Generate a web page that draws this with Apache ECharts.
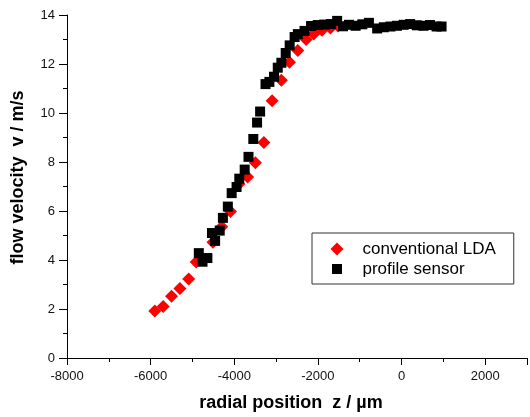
<!DOCTYPE html>
<html>
<head>
<meta charset="utf-8">
<script src="https://cdn.jsdelivr.net/npm/echarts@6/dist/echarts.min.js"></script>
<style>
  html, body { margin: 0; padding: 0; background: #fff; }
  #chart { width: 530px; height: 417px; }
</style>
</head>
<body>
<div id="chart"></div>
<script>
// conventional LDA (red diamonds): radial position z [um], velocity [m/s]
var ldaZ = [-5900, -5700, -5500, -5300, -5090, -4910, -4510, -4300, -4090, -3890, -3680,
  -3495, -3292, -3095, -2874, -2680, -2480, -2282, -2100, -1900, -1700, -1520];
var ldaV = [1.92, 2.10, 2.52, 2.84, 3.22, 3.92, 4.72, 5.36, 5.98, 7.10, 7.39,
  7.97, 8.80, 10.50, 11.34, 12.07, 12.55, 13.00, 13.22, 13.38, 13.47, 13.55];

// profile sensor (black squares)
var sensorZ = [-4848, -4760, -4643, -4533, -4458, -4348, -4272, -4154, -4062, -3945, -3880,
  -3751, -3660, -3545, -3455, -3382, -3253, -3160, -3050, -2960, -2874, -2770, -2675,
  -2557, -2479, -2320, -2164, -2005, -1848, -1690, -1540, -1400, -1256, -1098, -938,
  -780, -583, -424, -265, -109, 50, 206, 365, 523, 680, 838, 957];
var sensorV = [4.28, 3.93, 4.08, 5.10, 4.78, 5.20, 5.72, 6.18, 6.73, 6.98, 7.32,
  7.69, 8.21, 8.94, 9.61, 10.06, 11.18, 11.27, 11.48, 11.85, 12.05, 12.45, 12.76,
  13.10, 13.22, 13.35, 13.55, 13.59, 13.61, 13.63, 13.76, 13.54, 13.60, 13.56, 13.62,
  13.68, 13.45, 13.50, 13.53, 13.56, 13.60, 13.63, 13.58, 13.56, 13.59, 13.53, 13.53];

var seriesNames = ['conventional LDA', 'profile sensor'];

function pairs(xs, ys) {
  return xs.map(function (x, i) { return [x, ys[i]]; });
}

var font = 'Arial, "Liberation Sans", sans-serif';
var myChart = echarts.init(document.getElementById('chart'));

myChart.setOption({
  backgroundColor: '#fff',
  animation: false,
  grid: {
    left: 67,
    right: -1,
    top: 15,
    bottom: 59
  },
  legend: {
    orient: 'vertical',
    left: 312,
    top: 233,
    padding: [6, 18, 5, 17],
    itemGap: 0,
    itemWidth: 13,
    itemHeight: 13,
    borderColor: '#333',
    borderWidth: 1,
    textStyle: { fontFamily: font, fontSize: 17, color: '#000', lineHeight: 20, padding: [0, 0, 0, 14] },
    data: [
      { name: seriesNames[0] },
      { name: seriesNames[1], itemStyle: { borderColor: '#fff', borderWidth: 3 } }
    ]
  },
  xAxis: {
    type: 'value',
    min: -8000,
    max: 3000,
    interval: 2000,
    name: 'radial position  z / µm',
    nameLocation: 'middle',
    nameGap: 36,
    nameTextStyle: { fontFamily: font, fontSize: 18, fontWeight: 'bold', color: '#000', padding: [0, 12, 0, 0] },
    axisLine: { onZero: false, lineStyle: { color: '#000', width: 1 } },
    axisTick: { length: 7, lineStyle: { color: '#000' } },
    minorTick: { show: true, splitNumber: 2, length: 4, lineStyle: { color: '#000' } },
    axisLabel: { fontFamily: font, fontSize: 13, color: '#111', margin: 12,
      formatter: function (v) { return v > 2000 ? '' : String(v); } },
    splitLine: { show: false }
  },
  yAxis: {
    type: 'value',
    min: 0,
    max: 14,
    interval: 2,
    name: 'flow velocity  v / m/s',
    nameLocation: 'middle',
    nameGap: 40,
    nameTextStyle: { fontFamily: font, fontSize: 18, fontWeight: 'bold', color: '#000', padding: [0, 0, 0, 18] },
    axisLine: { show: true, onZero: false, lineStyle: { color: '#000', width: 1 } },
    axisTick: { show: true, length: 8, lineStyle: { color: '#000' } },
    minorTick: { show: true, splitNumber: 2, length: 4, lineStyle: { color: '#000' } },
    axisLabel: { fontFamily: font, fontSize: 13, color: '#111', margin: 12 },
    splitLine: { show: false }
  },
  series: [
    {
      name: seriesNames[0],
      type: 'scatter',
      symbol: 'diamond',
      symbolSize: 13,
      itemStyle: { color: '#ff0000', opacity: 1 },
      data: pairs(ldaZ, ldaV)
    },
    {
      name: seriesNames[1],
      type: 'scatter',
      symbol: 'rect',
      symbolSize: 10,
      itemStyle: { color: '#000', opacity: 1 },
      data: pairs(sensorZ, sensorV)
    }
  ]
});
</script>
</body>
</html>
